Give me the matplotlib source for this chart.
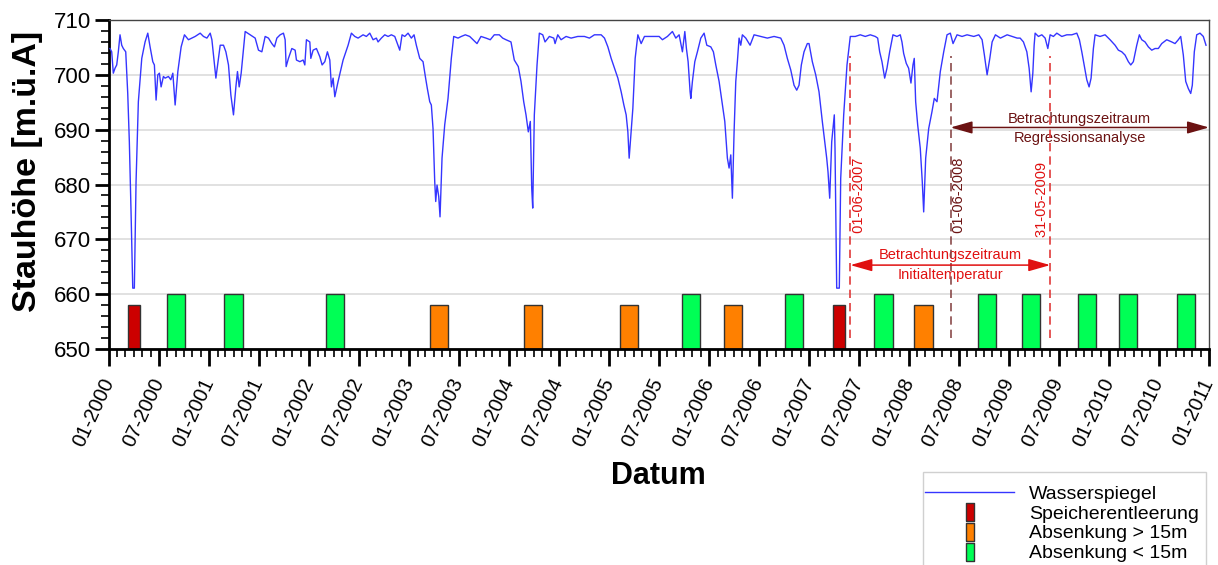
import matplotlib
matplotlib.use("Agg")
import matplotlib.pyplot as plt
import matplotlib.dates as mdates
from matplotlib.lines import Line2D
from matplotlib.patches import Rectangle
from matplotlib.ticker import MultipleLocator
from datetime import datetime

plt.rcParams['font.family'] = ['Liberation Sans', 'DejaVu Sans']

# water level (decimal year, m.ü.A)
wl_year = [
    2000.010, 2000.027, 2000.043, 2000.060, 2000.077, 2000.093, 2000.110, 2000.127, 2000.143, 2000.167,
    2000.187, 2000.203, 2000.220, 2000.237, 2000.253, 2000.270, 2000.293, 2000.327, 2000.360, 2000.387,
    2000.410, 2000.437, 2000.453, 2000.470, 2000.487, 2000.503, 2000.520, 2000.543, 2000.560, 2000.593,
    2000.617, 2000.637, 2000.660, 2000.687, 2000.720, 2000.753, 2000.793, 2000.827, 2000.860, 2000.910,
    2000.943, 2000.977,
    2001.010, 2001.027, 2001.053, 2001.067, 2001.110, 2001.143, 2001.167, 2001.193, 2001.217, 2001.243,
    2001.267, 2001.283, 2001.300, 2001.320, 2001.337, 2001.360, 2001.410, 2001.460, 2001.493, 2001.527,
    2001.560, 2001.593, 2001.627, 2001.653, 2001.677, 2001.710, 2001.743, 2001.760, 2001.770, 2001.793,
    2001.827, 2001.860, 2001.873, 2001.907, 2001.940, 2001.957, 2001.973,
    2002.007, 2002.017, 2002.040, 2002.073, 2002.107, 2002.130, 2002.157, 2002.183, 2002.207, 2002.223,
    2002.240, 2002.257, 2002.290, 2002.340, 2002.390, 2002.423, 2002.457, 2002.490, 2002.540, 2002.573,
    2002.607, 2002.640, 2002.673, 2002.690, 2002.723, 2002.757, 2002.790, 2002.823, 2002.857, 2002.883,
    2002.907, 2002.930, 2002.957, 2002.990,
    2003.023, 2003.050, 2003.073, 2003.107, 2003.140, 2003.163, 2003.183, 2003.207, 2003.223, 2003.240,
    2003.257, 2003.267, 2003.280, 2003.297, 2003.310, 2003.330, 2003.357, 2003.390, 2003.423, 2003.447,
    2003.490, 2003.523, 2003.563, 2003.607, 2003.680, 2003.720, 2003.770, 2003.813, 2003.853, 2003.903,
    2003.937, 2003.970,
    2004.020, 2004.053, 2004.093, 2004.120, 2004.147, 2004.170, 2004.193, 2004.213, 2004.227, 2004.237,
    2004.253, 2004.280, 2004.303, 2004.337, 2004.360, 2004.403, 2004.447, 2004.460, 2004.487, 2004.520,
    2004.570, 2004.620, 2004.687, 2004.753, 2004.803, 2004.853, 2004.920, 2004.953, 2004.987,
    2005.020, 2005.053, 2005.087, 2005.120, 2005.147, 2005.170, 2005.187, 2005.200, 2005.220, 2005.237,
    2005.260, 2005.287, 2005.320, 2005.353, 2005.420, 2005.450, 2005.500, 2005.533, 2005.583, 2005.633,
    2005.667, 2005.700, 2005.733, 2005.757, 2005.773, 2005.790, 2005.810, 2005.817, 2005.833, 2005.857,
    2005.883, 2005.917, 2005.950, 2005.977,
    2006.017, 2006.043, 2006.067, 2006.100, 2006.133, 2006.157, 2006.183, 2006.200, 2006.217, 2006.233,
    2006.250, 2006.267, 2006.283, 2006.300, 2006.317, 2006.333, 2006.367, 2006.410, 2006.450, 2006.517,
    2006.583, 2006.650, 2006.717, 2006.750, 2006.783, 2006.817, 2006.850, 2006.877, 2006.900, 2006.923,
    2006.950, 2006.983,
    2007.000, 2007.033, 2007.067, 2007.100, 2007.133, 2007.157, 2007.177, 2007.190, 2007.207, 2007.227,
    2007.243, 2007.253, 2007.260, 2007.267, 2007.277, 2007.303, 2007.317, 2007.347, 2007.380, 2007.413,
    2007.463, 2007.513, 2007.563, 2007.613, 2007.663, 2007.687, 2007.707, 2007.730, 2007.757, 2007.780,
    2007.807, 2007.840, 2007.880, 2007.913, 2007.930, 2007.947, 2007.973, 2007.997,
    2008.020, 2008.040, 2008.053, 2008.067, 2008.087, 2008.113, 2008.133, 2008.147, 2008.167, 2008.197,
    2008.230, 2008.253, 2008.280, 2008.313, 2008.347, 2008.380, 2008.413, 2008.440, 2008.480, 2008.530,
    2008.580, 2008.647, 2008.697, 2008.730, 2008.753, 2008.780, 2008.807, 2008.830, 2008.863, 2008.913,
    2008.980,
    2009.030, 2009.080, 2009.110, 2009.143, 2009.177, 2009.200, 2009.220, 2009.237, 2009.250, 2009.260,
    2009.293, 2009.327, 2009.360, 2009.387, 2009.410, 2009.443, 2009.477, 2009.527, 2009.577, 2009.627,
    2009.677, 2009.703, 2009.727, 2009.750, 2009.777, 2009.800, 2009.820, 2009.843, 2009.860, 2009.910,
    2009.960,
    2010.010, 2010.060, 2010.093, 2010.127, 2010.160, 2010.193, 2010.217, 2010.243, 2010.277, 2010.303,
    2010.327, 2010.360, 2010.393, 2010.427, 2010.460, 2010.493, 2010.527, 2010.577, 2010.627, 2010.660,
    2010.693, 2010.717, 2010.743, 2010.767, 2010.793, 2010.817, 2010.833, 2010.853, 2010.877, 2010.910,
    2010.943, 2010.960, 2010.970,
]
wl_level = [
    704.8, 704.2, 700.3, 701.2, 701.8, 704.2, 707.3, 705.4, 704.8, 704.2,
    696.6, 687.8, 675.0, 661.1, 661.1, 680.5, 695.1, 703.0, 706.0, 707.6,
    705.1, 702.4, 701.8, 695.4, 700.0, 700.3, 697.8, 699.7, 699.4, 699.7,
    699.1, 700.3, 694.5, 700.6, 705.1, 707.3, 706.4, 706.7, 707.0, 707.6,
    707.0, 706.7,
    707.6, 706.4, 701.8, 699.4, 705.4, 705.4, 704.2, 701.8, 696.3, 692.7,
    697.8, 700.6, 697.8, 700.3, 703.6, 707.9, 707.3, 706.7, 704.5, 704.2,
    707.0, 706.7, 705.7, 705.1, 706.7, 707.3, 707.6, 706.4, 701.5, 703.0,
    704.8, 704.5, 702.7, 702.4, 702.7, 701.8, 706.4,
    706.0, 703.0, 704.5, 704.8, 703.3, 701.8, 702.4, 704.2, 702.7, 697.8,
    699.4, 696.0, 698.8, 702.7, 705.4, 707.6, 707.0, 706.7, 707.3, 707.0,
    707.6, 706.4, 706.7, 706.0, 706.7, 707.3, 707.0, 707.3, 707.0, 705.7,
    704.5, 707.3, 707.0, 707.6,
    706.7, 707.3, 705.4, 703.0, 702.4, 699.7, 697.5, 695.1, 694.5, 690.2,
    680.5, 676.9, 679.9, 677.8, 674.1, 684.8, 690.9, 695.7, 703.0, 707.0,
    706.7, 707.0, 707.3, 707.0, 705.7, 707.0, 706.7, 706.4, 707.3, 707.3,
    706.7, 706.4,
    706.0, 702.7, 701.5, 698.8, 695.1, 692.7, 689.6, 691.5, 679.3, 675.7,
    692.7, 701.8, 707.6, 707.3, 706.0, 707.0, 706.7, 705.7, 707.3, 706.4,
    707.0, 706.7, 707.0, 707.0, 706.7, 707.3, 707.3, 706.7, 705.1,
    703.0, 701.2, 699.4, 696.9, 694.5, 692.7, 689.6, 684.8, 689.6, 693.9,
    703.0, 707.3, 705.7, 707.0, 707.0, 707.0, 707.0, 706.4, 707.0, 707.9,
    706.7, 707.3, 704.2, 707.9, 704.8, 702.4, 696.9, 695.7, 698.8, 702.4,
    704.2, 706.7, 707.6, 705.4,
    705.1, 704.2, 701.8, 698.8, 694.5, 691.5, 684.8, 683.0, 685.4, 677.5,
    689.6, 698.8, 702.4, 706.7, 705.4, 707.3, 706.7, 705.4, 707.3, 707.0,
    706.7, 707.0, 706.7, 705.4, 703.0, 700.9, 698.1, 697.2, 698.1, 701.8,
    704.2, 705.7,
    705.7, 702.4, 700.0, 696.9, 691.5, 687.8, 684.8, 682.3, 677.5, 687.8,
    690.9, 692.7, 686.6, 676.3, 661.1, 661.1, 681.1, 692.7, 701.8, 707.0,
    707.0, 707.3, 707.0, 707.3, 707.0, 706.7, 704.2, 702.4, 699.4, 701.2,
    704.2, 707.3, 707.0, 707.3, 706.0, 703.9, 702.1, 701.2,
    698.5, 701.8, 703.0, 695.1, 690.9, 686.6, 680.5, 675.0, 684.8, 690.2,
    693.3, 695.7, 695.1, 700.6, 704.2, 707.3, 707.6, 705.7, 707.3, 707.0,
    707.3, 707.0, 707.3, 706.4, 703.6, 700.0, 703.0, 706.0, 707.3, 706.7,
    707.3,
    707.0, 706.7, 706.7, 706.0, 704.2, 701.2, 696.9, 700.3, 705.4, 707.6,
    707.0, 707.3, 706.7, 704.8, 707.3, 707.0, 707.6, 707.0, 707.3, 707.3,
    707.6, 706.4, 704.2, 701.8, 699.1, 697.8, 699.4, 704.8, 707.3, 707.0,
    707.3,
    706.4, 705.4, 704.5, 704.2, 703.6, 702.4, 701.8, 702.4, 705.4, 707.3,
    706.4, 706.0, 705.1, 704.5, 704.8, 704.8, 705.7, 706.4, 706.0, 705.7,
    706.4, 707.0, 703.6, 698.8, 697.5, 696.6, 698.1, 704.2, 707.3, 707.6,
    707.0, 706.0, 705.4,
]

# drawdown events (centre in decimal year, bar top)
ev_year = [2000.247, 2000.667, 2001.243, 2002.255, 2003.303, 2004.237, 2005.203, 2005.817, 2006.235,
           2006.847, 2007.297, 2007.745, 2008.145, 2008.775, 2009.218, 2009.782, 2010.193, 2010.772]
ev_top = [658, 660, 660, 660, 658, 658, 658, 660, 658, 660, 658, 660, 658, 660, 660, 660, 660, 660]
ev_kind = ['S', 'L', 'L', 'L', 'G', 'G', 'G', 'L', 'G', 'L', 'S', 'L', 'G', 'L', 'L', 'L', 'L', 'L']

kind_labels = {'S': 'Speicherentleerung', 'G': 'Absenkung > 15m', 'L': 'Absenkung < 15m'}
kind_colors = {'S': '#cc0000', 'G': '#ff8000', 'L': '#00ff55'}
kind_width = {'S': 44, 'G': 66, 'L': 66}   # days

red = '#e01010'
maroon = '#6b1212'
blue = '#3535ff'


def to_date(y):
    yr = int(y)
    a, b = datetime(yr, 1, 1), datetime(yr + 1, 1, 1)
    return a + (b - a) * (y - yr)


fig = plt.figure(figsize=(12.18, 5.65), dpi=100)
ax = fig.add_axes([109 / 1218, 1 - 349 / 565, 1100 / 1218, 329 / 565])

ax.plot([to_date(y) for y in wl_year], wl_level, color=blue, lw=1.0, zorder=3)

for y, top, k in zip(ev_year, ev_top, ev_kind):
    ax.bar(to_date(y), top - 650, bottom=650, width=kind_width[k], color=kind_colors[k],
           edgecolor='#333333', linewidth=1.0, zorder=2)

# periods
d07 = datetime(2007, 6, 1)
d08 = datetime(2008, 6, 1)
d09 = datetime(2009, 5, 31)
dend = datetime(2011, 1, 1)
for d, c in [(d07, '#e03a3a'), (d08, '#8a4a4a'), (d09, '#e03a3a')]:
    ax.plot([d, d], [652, 703.5], color=c, lw=1.2, ls=(0, (5, 3)), zorder=4)

ax.annotate(' 01-06-2007', xy=(d07, 670.4), xytext=(1, 0), textcoords='offset points',
            rotation=90, ha='left', va='bottom', fontsize=10.5, color=red)
ax.annotate(' 01-06-2008', xy=(d08, 670.4), xytext=(1, 0), textcoords='offset points',
            rotation=90, ha='left', va='bottom', fontsize=10.5, color=maroon)
ax.annotate('31-05-2009 ', xy=(d09, 670.4), xytext=(-1, 0), textcoords='offset points',
            rotation=90, ha='right', va='bottom', fontsize=10.5, color=red)

arrow = '<|-|>,head_length=0.95,head_width=0.27'
ax.annotate('', xy=(d09, 665.3), xytext=(d07, 665.3),
            arrowprops=dict(arrowstyle=arrow, color=red, lw=1.1, shrinkA=0, shrinkB=0,
                            mutation_scale=14), zorder=5)
mid1 = d07 + (d09 - d07) / 2
ax.text(mid1, 667.2, 'Betrachtungszeitraum', ha='center', va='center', fontsize=10.5, color=red)
ax.text(mid1, 663.5, 'Initialtemperatur', ha='center', va='center', fontsize=10.5, color=red)

ax.annotate('', xy=(dend, 690.4), xytext=(d08, 690.4),
            arrowprops=dict(arrowstyle=arrow, color=maroon, lw=1.1, shrinkA=0, shrinkB=0,
                            mutation_scale=14), zorder=5, annotation_clip=False)
mid2 = d08 + (dend - d08) / 2
ax.text(mid2, 691.9, 'Betrachtungszeitraum', ha='center', va='center', fontsize=10.5, color=maroon)
ax.text(mid2, 688.4, 'Regressionsanalyse', ha='center', va='center', fontsize=10.5, color=maroon)

# axes
ax.set_xlim(datetime(2000, 1, 1), dend)
ax.set_ylim(650, 710)
ax.yaxis.set_major_locator(MultipleLocator(10))
ax.yaxis.set_minor_locator(MultipleLocator(2))
ax.xaxis.set_major_locator(mdates.MonthLocator(bymonth=[1, 7]))
ax.xaxis.set_minor_locator(mdates.MonthLocator())
ax.xaxis.set_major_formatter(mdates.DateFormatter('%m-%Y'))

ax.yaxis.grid(True, color='#dcdcdc', lw=1.2)
ax.set_axisbelow(True)

ax.tick_params(axis='both', which='major', direction='out', width=2)
ax.tick_params(axis='y', which='major', length=10, pad=3, labelsize=16)
ax.tick_params(axis='x', which='major', length=12, pad=10, labelrotation=65, labelsize=14.5)
ax.tick_params(axis='both', which='minor', direction='out', width=1.2, length=6)
for t in ax.get_xticklabels():
    t.set_ha('right')
    t.set_va('center')
    t.set_rotation_mode('anchor')

for s in ['left', 'bottom']:
    ax.spines[s].set_linewidth(2)
for s in ['top', 'right']:
    ax.spines[s].set_linewidth(1)
    ax.spines[s].set_color('#444444')

ax.set_xlabel('Datum', fontsize=22, fontweight='bold')
ax.xaxis.set_label_coords(0.499, -0.385)
ax.xaxis.label.set_va('center')
ax.set_ylabel('Stauhöhe [m.ü.A]', fontsize=24.5, fontweight='bold')
ax.yaxis.set_label_coords(-0.0745, 0.54)
ax.yaxis.label.set_va('center')

# legend
bar_marker = [(-0.24, -0.5), (0.24, -0.5), (0.24, 0.5), (-0.24, 0.5), (-0.24, -0.5)]
handles = [Line2D([], [], color=blue, lw=1.0)]
labels = ['Wasserspiegel']
for k in ['S', 'G', 'L']:
    handles.append(Line2D([], [], ls='none', marker=bar_marker, markersize=13,
                          markerfacecolor=kind_colors[k], markeredgecolor='#333333',
                          markeredgewidth=1.0))
    labels.append(kind_labels[k])
fig.legend(handles, labels, loc='upper left', bbox_to_anchor=(925 / 1218, 1 - 485 / 565),
           fontsize=14, handlelength=4.6, handletextpad=0.75, labelspacing=0.12,
           borderpad=0, borderaxespad=0, frameon=False)
fig.add_artist(Rectangle((923 / 1218, -0.02), (1206 - 923) / 1218, (565 - 472) / 565 + 0.02,
                         transform=fig.transFigure, fill=False, edgecolor='#d0d0d0', lw=1))

fig.savefig('out.png', dpi=100)
